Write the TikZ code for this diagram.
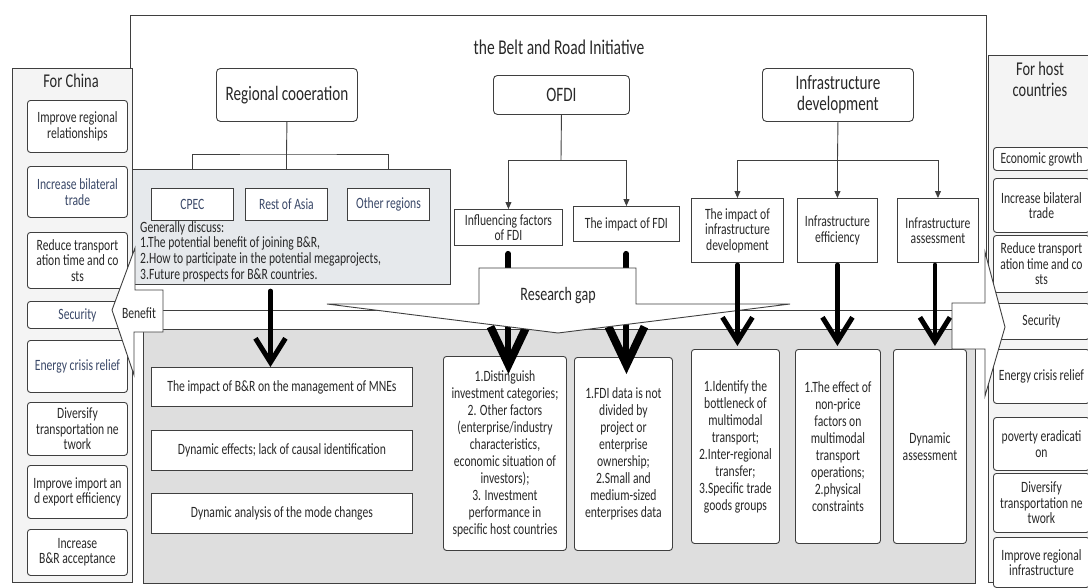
\documentclass[tikz,border=0pt]{standalone}
\usepackage{fontspec}
\setmainfont{Carlito}[FakeStretch=0.74]
\usetikzlibrary{arrows.meta,calc}
\definecolor{linegray}{HTML}{3F3F3F}
\definecolor{textgray}{HTML}{282828}
\definecolor{slate}{HTML}{3A4868}
\definecolor{panelgray}{HTML}{F4F4F4}
\definecolor{midgray}{HTML}{DEDEDE}
\definecolor{bluegray}{HTML}{E6E9EC}
\tikzset{
  panel/.style={
    draw = linegray,
    line width = 0.9pt
  },
  cell/.style={
    draw = linegray,
    fill = white,
    line width = 0.9pt,
    inner sep = 0pt,
    anchor = north west,
    align = center,
    text = textgray,
    font = \fontsize{15.7}{15.5}\selectfont
  },
  roundcell/.style={
    cell,
    rounded corners = 3pt
  },
  notecell/.style={
    roundcell,
    font = \fontsize{15.7}{17}\selectfont
  },
  headcell/.style={
    cell,
    rounded corners = 4pt,
    font = \fontsize{20.5}{21}\selectfont
  },
  link/.style={
    draw = linegray,
    line width = 0.9pt
  },
  linkarrow/.style={
    link,
    -{Triangle[length=7pt,width=6pt]}
  },
  fatarrow/.style={
    line width = 4.5pt,
    line cap = round,
    -{Straight Barb[length=24pt,width=30pt,line width=5pt]}
  },
  hugearrow/.style={
    line width = 6pt,
    line cap = round,
    -{Straight Barb[length=38pt,width=36pt,line width=8pt]}
  },
  every picture/.style = {
    x = 1pt,
    y = -1pt
  }
}
\begin{document}
\begin{tikzpicture}
  \useasboundingbox (0,0) rectangle (1088,587);
  \clip (0,0) rectangle (1088,587);
  % the Belt and Road Initiative frame
  \draw[panel, fill=white] (130,15) rectangle (986,310);
  \node[text=textgray, font=\fontsize{21}{22}\selectfont] (bri) at (559,47) {the Belt and Road Initiative};
  % side panels
  \draw[panel, fill=panelgray] (12,68) rectangle (132,582);
  \node[text=textgray, font=\fontsize{19.5}{20}\selectfont] (china) at (71,81) {For China};
  \foreach \y/\h/\col/\txt [count=\i] in {
      100/52/textgray/{Improve regional\\relationships},
      166/51/slate/{Increase bilateral\\trade},
      232/56/textgray/{Reduce transport\\ation time and co\\sts},
      301/27/slate/{Security},
      340/52/slate/{Energy crisis relief},
      402/53/textgray/{Diversify\\transportation ne\\twork},
      465/53/textgray/{Improve import an\\d export efficiency},
      529/46/textgray/{Increase\\B\&R acceptance}}{
    \node[roundcell, text=\col, minimum width=100pt, minimum height=\h pt] (c\i) at (27,\y) {\txt};
  }
  \draw[panel, fill=panelgray] (988,55) rectangle (1100,582);
  \node[text=textgray, align=center, font=\fontsize{19.5}{21}\selectfont] (host) at (1040,79) {For host\\countries};
  \foreach \y/\h/\txt [count=\i] in {
      147/23/{Economic growth},
      178/54/{Increase bilateral\\trade},
      235/57/{Reduce transport\\ation time and co\\sts},
      303/36/{Security},
      349/54/{Energy crisis relief},
      417/53/{poverty eradicati\\on},
      473/59/{Diversify\\transportation ne\\twork},
      537/50/{Improve regional\\infrastructure}}{
    \node[roundcell, minimum width=96pt, minimum height=\h pt] (h\i) at (993,\y) {\txt};
  }
  % three topics
  \node[headcell, minimum width=141pt, minimum height=53pt] (reg) at (216,68) {Regional cooeration};
  \node[headcell, minimum width=136pt, minimum height=39pt] (ofdi) at (493,75) {OFDI};
  \node[headcell, minimum width=151pt, minimum height=53pt] (infra) at (762,68) {Infrastructure\\development};
  % regional cooperation
  \node[cell, fill=bluegray, minimum width=318pt, minimum height=115pt] (discuss) at (132,169) {};
  \node[cell, text=slate, minimum width=82pt, minimum height=32pt] (cpec) at (151,188) {CPEC};
  \node[cell, text=slate, minimum width=82pt, minimum height=32pt] (asia) at (245,188) {Rest of Asia};
  \node[cell, text=slate, minimum width=82pt, minimum height=32pt] (other) at (347,188) {Other regions};
  \node[anchor=north west, align=left, inner sep=0pt, text=textgray, font=\fontsize{15.7}{15.7}\selectfont] (discusstext) at (140,221)
    {Generally discuss:\\1.The potential benefit of joining B\&R,\\2.How to participate in the potential megaprojects,\\3.Future prospects for B\&R countries.};
  \coordinate (rbar) at (286.5,154);
  \draw[link] (reg.south) -- (rbar);
  \draw[link] (cpec.north |- discuss.north) |- (rbar) -| (other.north |- discuss.north);
  \draw[link] (rbar) -- (asia.north |- discuss.north);
  % OFDI
  \node[cell, minimum width=108pt, minimum height=36pt] (infl) at (454,209) {Influencing factors\\of FDI};
  \node[cell, minimum width=106pt, minimum height=35pt] (fdi) at (573,206) {The impact of FDI};
  \coordinate (obar) at (561,160);
  \draw[link] (ofdi.south) -- (obar);
  \draw[linkarrow] (obar) -| (infl.north);
  \draw[linkarrow] (obar) -| (fdi.north);
  % infrastructure
  \node[cell, minimum width=92pt, minimum height=64pt] (imp) at (691,198) {The impact of\\infrastructure\\development};
  \node[cell, minimum width=80pt, minimum height=64pt] (eff) at (797,198) {Infrastructure\\efficiency};
  \node[cell, minimum width=81pt, minimum height=64pt] (ass) at (897,198) {Infrastructure\\assessment};
  \coordinate (ibar) at (837.5,160);
  \draw[link] (infra.south) -- (ibar);
  \draw[linkarrow] (ibar) -| (imp.north);
  \draw[linkarrow] (ibar) -- (eff.north);
  \draw[linkarrow] (ibar) -| (ass.north);
  % research gaps
  \node[cell, fill=midgray, minimum width=832pt, minimum height=254pt] (gappanel) at (143,329) {};
  \node[cell, minimum width=261pt, minimum height=39pt] (g1) at (151,367) {The impact of B\&R on the management of MNEs};
  \node[cell, minimum width=261pt, minimum height=40pt] (g2) at (151,430) {Dynamic effects; lack of causal identification};
  \node[cell, minimum width=261pt, minimum height=40pt] (g3) at (151,493) {Dynamic analysis of the mode changes};
  \node[notecell, minimum width=123pt, minimum height=194pt] (b1) at (443,356)
    {1.Distinguish\\investment categories;\\2. Other factors\\(enterprise/industry\\characteristics,\\economic situation of\\investors);\\3. Investment\\performance in\\specific host countries};
  \node[notecell, minimum width=98pt, minimum height=193pt] (b2) at (574,357)
    {1.FDI data is not\\divided by\\project or\\enterprise\\ownership;\\2.Small and\\medium-sized\\enterprises data};
  \node[notecell, minimum width=88pt, minimum height=194pt] (b3) at (691,349)
    {1.Identify the\\bottleneck of\\multimodal\\transport;\\2.Inter-regional\\transfer;\\3.Specific trade\\goods groups};
  \node[notecell, minimum width=85pt, minimum height=194pt] (b4) at (795,349)
    {1.The effect of\\non-price\\factors on\\multimodal\\transport\\operations;\\2.physical\\constraints};
  \node[notecell, minimum width=73pt, minimum height=194pt] (b5) at (893,349) {Dynamic\\assessment};
  \draw[hugearrow] ($(infl.south)+(0,8)$) -- ($(infl.south |- b1.north)+(0,18)$);
  \draw[hugearrow] ($(fdi.south)+(0,12)$) -- ($(fdi.south |- b2.north)+(0,17)$);
  \draw[panel, fill=white] (479,268) -- (636,268) -- (636,304) -- (790,304) -- (558,333) -- (327,304) -- (479,304) -- cycle;
  \node[text=textgray, font=\fontsize{19}{20}\selectfont] (gaplabel) at (558,296) {Research gap};
  \draw[fatarrow] ($(discuss.south)+(-21,6)$) -- ($(discuss.south |- g1.north)+(-21,0)$);
  \draw[fatarrow] ($(imp.south)+(0,2)$) -- ($(imp.south |- b3.north)+(0,-3)$);
  \draw[fatarrow] ($(eff.south)+(0,2)$) -- ($(eff.south |- b4.north)+(0,-3)$);
  \draw[fatarrow] ($(ass.south)+(-3,2)$) -- ($(ass.south |- b5.north)+(-3,-3)$);
  % benefit arrows
  \draw[panel, fill=white] (163,290) -- (135,290) -- (135,248) -- (112,310) -- (134,375) -- (134,332) -- (163,332) -- cycle;
  \node[text=textgray, font=\fontsize{15.7}{16}\selectfont] (benefit) at (139,313) {Benefit};
  \draw[panel, fill=white] (952,303) -- (985,303) -- (985,252) -- (1005,327) -- (985,396) -- (985,349) -- (952,349) -- cycle;
\end{tikzpicture}
\end{document}
